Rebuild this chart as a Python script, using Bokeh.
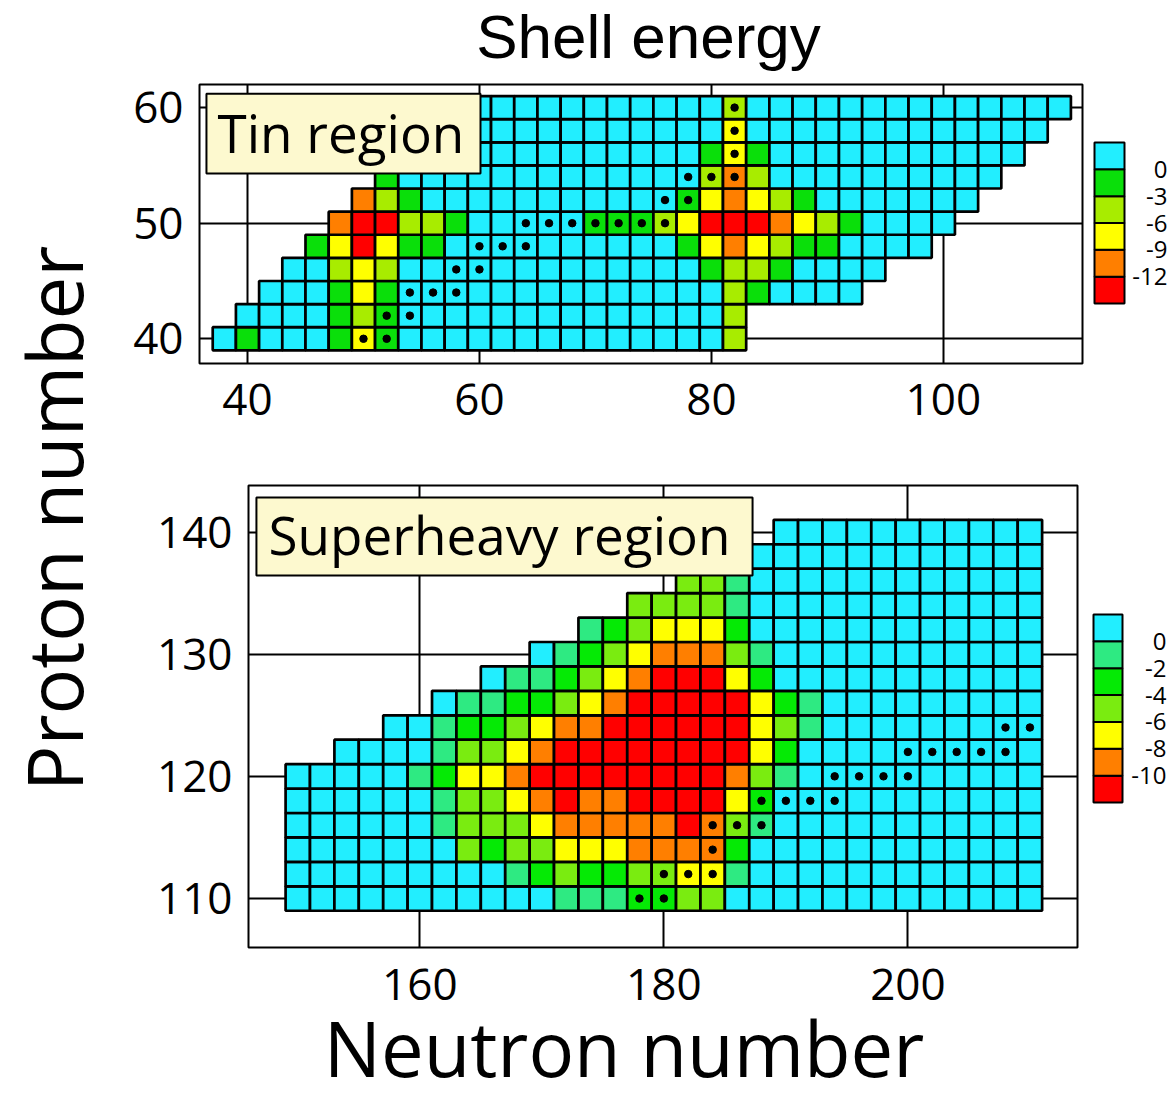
import math
from bokeh.plotting import figure
from bokeh.models import Range1d, ColumnDataSource, FixedTicker, LinearColorMapper
from bokeh.layouts import row, column
from bokeh.core.properties import value
from bokeh.embed import file_html
from bokeh.resources import INLINE

# ---------------- Tin region (top panel) ----------------
tin_proton = [40, 42, 44, 46, 48, 50, 52, 54, 56, 58, 60]
tin_first_neutron = [38, 40, 42, 44, 46, 48, 50, 52, 54, 56, 58]
# shell energy (MeV) per cell, neutron number stepping by 2 from the first neutron
tin_energy = [
    [1, -2, 1, 1, 1, -2, -8, -2, 1, 1, 1, 1, 1, 1, 1, 1, 1, 1, 1, 1, 1, 1, -5],
    [1, 1, 1, 1, -2, -5, -2, 1, 1, 1, 1, 1, 1, 1, 1, 1, 1, 1, 1, 1, 1, -5],
    [1, 1, 1, -2, -8, -2, 1, 1, 1, 1, 1, 1, 1, 1, 1, 1, 1, 1, 1, 1, -5, -2, 1, 1, 1, 1],
    [1, 1, -5, -8, -5, 1, 1, 1, 1, 1, 1, 1, 1, 1, 1, 1, 1, 1, -2, -5, -5, -2, 1, 1, 1, 1],
    [-2, -8, -14, -8, -2, -2, 1, 1, 1, 1, 1, 1, 1, 1, 1, 1, -2, -8, -11, -8, -5, -2, -2, 1, 1, 1, 1],
    [-11, -14, -14, -5, -5, -2, 1, 1, 1, 1, 1, -2, -2, -2, -5, -8, -14, -14, -14, -11, -8, -5, -2, 1, 1, 1, 1],
    [-11, -5, -2, 1, 1, 1, 1, 1, 1, 1, 1, 1, 1, 1, -2, -8, -11, -8, -5, -2, 1, 1, 1, 1, 1, 1, 1],
    [-2, 1, 1, 1, 1, 1, 1, 1, 1, 1, 1, 1, 1, 1, -5, -11, -5, 1, 1, 1, 1, 1, 1, 1, 1, 1, 1],
    [1, 1, 1, 1, 1, 1, 1, 1, 1, 1, 1, 1, 1, -2, -8, -2, 1, 1, 1, 1, 1, 1, 1, 1, 1, 1, 1],
    [1, 1, 1, 1, 1, 1, 1, 1, 1, 1, 1, 1, 1, -8, 1, 1, 1, 1, 1, 1, 1, 1, 1, 1, 1, 1, 1],
    [1, 1, 1, 1, 1, 1, 1, 1, 1, 1, 1, 1, -5, 1, 1, 1, 1, 1, 1, 1, 1, 1, 1, 1, 1, 1, 1],
]
tin_dot_neutron = [50, 52, 52, 54, 54, 56, 58, 58, 60, 60, 62, 64, 64, 66, 68, 70, 72, 74, 76, 76, 78, 78, 80, 82, 82, 82, 82]
tin_dot_proton = [40, 40, 42, 42, 44, 44, 44, 46, 46, 48, 48, 48, 50, 50, 50, 50, 50, 50, 50, 52, 52, 54, 54, 54, 56, 58, 60]
tin_bin_edges = [-15, -12, -9, -6, -3, 0, 3]
tin_colors = ["#FF0000", "#FF7F00", "#FFFF00", "#A8EC00", "#0ADF0A", "#22EEFF"]
tin_legend_ticks = [0, -3, -6, -9, -12]
tin_xticks = [40, 60, 80, 100]
tin_yticks = [40, 50, 60]

# ---------------- Superheavy region (bottom panel) ----------------
sh_proton = [110, 112, 114, 116, 118, 120, 122, 124, 126, 128, 130, 132, 134, 136, 138, 140]
sh_first_neutron = [150, 150, 150, 150, 150, 150, 154, 158, 162, 166, 170, 174, 178, 182, 186, 190]
sh_energy = [
    [1, 1, 1, 1, 1, 1, 1, 1, 1, 1, 1, -1, -1, -1, -3, -3, -5, -5, 1, 1, 1, 1, 1, 1, 1, 1, 1, 1, 1, 1, 1],
    [1, 1, 1, 1, 1, 1, 1, 1, 1, -1, -3, -5, -3, -3, -5, -5, -7, -7, -1, 1, 1, 1, 1, 1, 1, 1, 1, 1, 1, 1, 1],
    [1, 1, 1, 1, 1, 1, 1, -5, -3, -5, -5, -7, -7, -7, -9, -9, -9, -9, -3, 1, 1, 1, 1, 1, 1, 1, 1, 1, 1, 1, 1],
    [1, 1, 1, 1, 1, 1, -1, -5, -5, -5, -7, -9, -9, -9, -9, -9, -11, -9, -5, -1, 1, 1, 1, 1, 1, 1, 1, 1, 1, 1, 1],
    [1, 1, 1, 1, 1, 1, -1, -5, -5, -7, -9, -11, -9, -9, -11, -11, -11, -11, -7, -3, 1, 1, 1, 1, 1, 1, 1, 1, 1, 1, 1],
    [1, 1, 1, 1, 1, -1, -3, -7, -7, -9, -11, -11, -11, -11, -11, -11, -11, -11, -9, -5, -1, 1, 1, 1, 1, 1, 1, 1, 1, 1, 1],
    [1, 1, 1, 1, -1, -5, -5, -7, -9, -11, -11, -11, -11, -11, -11, -11, -11, -7, -3, 1, 1, 1, 1, 1, 1, 1, 1, 1, 1],
    [1, 1, -1, -3, -3, -5, -7, -9, -9, -11, -11, -11, -11, -11, -11, -7, -5, -1, 1, 1, 1, 1, 1, 1, 1, 1, 1],
    [1, -1, -1, -3, -3, -5, -7, -9, -11, -11, -11, -11, -11, -7, -3, -1, 1, 1, 1, 1, 1, 1, 1, 1, 1],
    [1, -1, -1, -3, -5, -7, -9, -11, -11, -11, -7, -3, 1, 1, 1, 1, 1, 1, 1, 1, 1, 1, 1],
    [1, -1, -3, -5, -7, -9, -9, -9, -5, -1, 1, 1, 1, 1, 1, 1, 1, 1, 1, 1, 1],
    [-1, -3, -5, -7, -7, -7, -3, 1, 1, 1, 1, 1, 1, 1, 1, 1, 1, 1, 1],
    [-5, -5, -5, -5, -1, 1, 1, 1, 1, 1, 1, 1, 1, 1, 1, 1, 1],
    [-5, -5, -1, 1, 1, 1, 1, 1, 1, 1, 1, 1, 1, 1, 1],
    [-1, 1, 1, 1, 1, 1, 1, 1, 1, 1, 1, 1, 1],
    [1, 1, 1, 1, 1, 1, 1, 1, 1, 1, 1],
]
sh_dot_neutron = [178, 180, 180, 182, 184, 184, 184, 186, 188, 188, 190, 192, 194, 194, 196, 198, 200, 200, 202, 204, 206, 208, 208, 210]
sh_dot_proton = [110, 110, 112, 112, 112, 114, 116, 116, 116, 118, 118, 118, 118, 120, 120, 120, 120, 122, 122, 122, 122, 122, 124, 124]
sh_bin_edges = [-12, -10, -8, -6, -4, -2, 0, 2]
sh_colors = ["#FF0000", "#FF7F00", "#FFFF00", "#7AEC10", "#05EA05", "#2EEA82", "#22EEFF"]
sh_legend_ticks = [0, -2, -4, -6, -8, -10]
sh_xticks = [160, 180, 200]
sh_yticks = [110, 120, 130, 140]

FONT = "Open Sans"
LABEL_BG = "#FDF9CF"
TICK_SIZE = "44px"


def blank(width, height, xr, yr):
    p = figure(width=width, height=height, x_range=Range1d(*xr), y_range=Range1d(*yr),
               x_axis_location=None, y_axis_location=None, min_border=0,
               toolbar_location=None, output_backend="svg", outline_line_color=None)
    p.grid.visible = False
    return p


def cell_source(proton, first_n, energy):
    N, Z, E = [], [], []
    for z, n0, vals in zip(proton, first_n, energy):
        for k, e in enumerate(vals):
            N.append(n0 + 2 * k)
            Z.append(z)
            E.append(e)
    return ColumnDataSource(dict(N=N, Z=Z, E=E))


def panel(proton, first_n, energy, dot_n, dot_z, edges, colors, xr, yr, xticks, yticks,
          fw, fh, bl, br, bt, bb, x_axis=True):
    p = figure(frame_width=fw, frame_height=fh, x_range=Range1d(*xr), y_range=Range1d(*yr),
               min_border_left=bl, min_border_right=br, min_border_top=bt, min_border_bottom=bb,
               x_axis_location="below" if x_axis else None,
               toolbar_location=None, output_backend="svg")
    mapper = LinearColorMapper(palette=colors, low=edges[0], high=edges[-1])
    src = cell_source(proton, first_n, energy)
    p.rect(x="N", y="Z", width=2, height=2, source=src,
           fill_color={"field": "E", "transform": mapper}, line_color="black", line_width=2.7)
    p.scatter(x=dot_n, y=dot_z, size=7.5, color="black")
    p.xgrid.ticker = FixedTicker(ticks=xticks)
    p.ygrid.ticker = FixedTicker(ticks=yticks)
    p.xaxis.ticker = FixedTicker(ticks=xticks)
    p.yaxis.ticker = FixedTicker(ticks=yticks)
    p.grid.grid_line_color = "black"
    p.grid.grid_line_width = 2
    p.grid.grid_line_alpha = 1
    p.axis.axis_line_color = None
    p.axis.major_tick_line_color = None
    p.axis.minor_tick_line_color = None
    p.axis.major_label_text_font = FONT
    p.axis.major_label_text_font_size = TICK_SIZE
    p.axis.major_label_text_color = "black"
    p.xaxis.major_label_standoff = 14
    p.yaxis.major_label_standoff = 10
    p.outline_line_color = "black"
    p.outline_line_width = 2
    p.outline_line_alpha = 1
    return p


def region_label(p, box, text_xy, text):
    left, right, bottom, top = box
    p.quad(left=[left], right=[right], bottom=[bottom], top=[top], fill_color=LABEL_BG,
           line_color="black", line_width=2)
    p.text(x=[text_xy[0]], y=[text_xy[1]], text=[text], text_font=value(FONT),
           text_font_size=value("53px"), text_baseline="middle", text_align="left",
           text_color="black")


def legend(fh, bt, bb, edges, colors, ticks, x0, x1, top_px, bottom_px, label_x):
    # top_px / bottom_px measured from the top of the frame
    scale = (bottom_px - top_px) / (edges[-1] - edges[0])
    y_hi = edges[-1] + top_px / scale
    y_lo = edges[0] - (fh - bottom_px) / scale
    p = figure(frame_width=90, frame_height=fh, x_range=Range1d(0, 90), y_range=Range1d(y_lo, y_hi),
               x_axis_location=None, y_axis_location=None,
               min_border_left=0, min_border_right=0, min_border_top=bt, min_border_bottom=bb,
               toolbar_location=None, output_backend="svg", outline_line_color=None)
    p.grid.visible = False
    p.quad(left=x0, right=x1, bottom=edges[:-1], top=edges[1:], fill_color=colors,
           line_color="black", line_width=2)
    p.text(x=[label_x] * len(ticks), y=ticks, text=[str(t) for t in ticks],
           text_align="right", text_baseline="middle",
           text_font=value(FONT), text_font_size=value("24px"), text_color="black")
    return p


# ---- top panel ----
top = panel(tin_proton, tin_first_neutron, tin_energy, tin_dot_neutron, tin_dot_proton,
            tin_bin_edges, tin_colors, (35.86, 112.0), (37.86, 62.0), tin_xticks, tin_yticks,
            883, 279, 89, 3, 12, 77)
region_label(top, (36.46, 60.09, 54.29, 61.21), (37.41, 57.84), "Tin region")

# ---- bottom panel (its neutron tick labels are drawn in the strip below) ----
SH_XR = (145.96, 213.9)
SH_FRAME_LEFT, SH_FRAME_W = 248, 829   # page pixels
bot = panel(sh_proton, sh_first_neutron, sh_energy, sh_dot_neutron, sh_dot_proton,
            sh_bin_edges, sh_colors, SH_XR, (105.99, 143.81), sh_xticks, sh_yticks,
            SH_FRAME_W, 462, SH_FRAME_LEFT - 110, 8, 45, 5, x_axis=False)
region_label(bot, (146.61, 187.27, 136.44, 142.83), (147.6, 139.76), "Superheavy region")

# ---- legends (frames aligned with their panels) ----
leg1 = legend(279, 12, 77, tin_bin_edges, tin_colors, tin_legend_ticks, 9, 39, 58, 219, 82)
leg2 = legend(462, 45, 5, sh_bin_edges, sh_colors, sh_legend_ticks, 8, 37, 129, 317, 81)

# ---- title ----
title_fig = blank(1065, 72, (0, 1065), (0, 72))
title_fig.text(x=[538], y=[36], text=["Shell energy"], text_font=value("Liberation Sans"),
               text_font_size=value("62px"), text_align="center", text_baseline="middle",
               text_color="black")

# ---- y title ----
left_fig = blank(110, 1100, (0, 110), (0, 1100))
left_fig.text(x=[53], y=[582], text=["Proton number"], text_font=value(FONT),
              text_font_size=value("76px"), text_align="center", text_baseline="middle",
              angle=math.pi / 2, text_color="black")

# ---- strip below the bottom panel: neutron tick labels + x title, same x scale ----
sc = SH_FRAME_W / (SH_XR[1] - SH_XR[0])
strip_xr = (SH_XR[0] - (SH_FRAME_LEFT - 110) / sc,
            SH_XR[1] + (1175 - SH_FRAME_LEFT - SH_FRAME_W) / sc)
xlab_fig = blank(1065, 148, strip_xr, (0, 148))
xlab_fig.text(x=sh_xticks, y=[116] * len(sh_xticks), text=[str(t) for t in sh_xticks],
              text_font=value(FONT), text_font_size=value(TICK_SIZE), text_align="center",
              text_baseline="middle", text_color="black")
xlab_fig.text(x=[SH_XR[0] + (623.5 - SH_FRAME_LEFT) / sc], y=[53], text=["Neutron number"],
              text_font=value(FONT), text_font_size=value("76px"), text_align="center",
              text_baseline="middle", text_color="black")

layout = row(left_fig, column(title_fig, row(top, leg1), row(bot, leg2), xlab_fig))

open("out.html", "w").write(file_html(layout, INLINE))
